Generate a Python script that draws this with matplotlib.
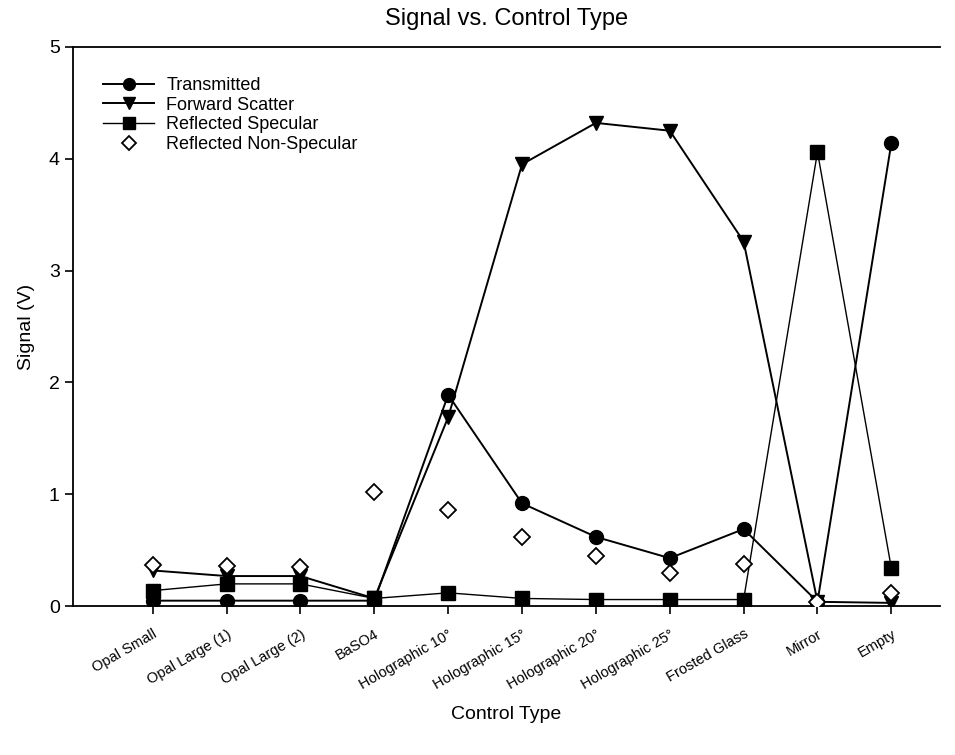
import numpy as np
import matplotlib.pyplot as plt

plt.rcParams['font.family'] = ['Liberation Sans', 'DejaVu Sans']

# --- data ---
categories = ['Opal Small', 'Opal Large (1)', 'Opal Large (2)', 'BaSO4',
              'Holographic 10°', 'Holographic 15°', 'Holographic 20°',
              'Holographic 25°', 'Frosted Glass', 'Mirror', 'Empty']
transmitted = [0.05, 0.05, 0.05, 0.05, 1.89, 0.92, 0.62, 0.43, 0.69, 0.04, 4.14]
forward_scatter = [0.32, 0.27, 0.27, 0.07, 1.69, 3.95, 4.32, 4.25, 3.26, 0.04, 0.03]
reflected_specular = [0.14, 0.20, 0.20, 0.07, 0.12, 0.07, 0.06, 0.06, 0.06, 4.06, 0.34]
reflected_nonspecular = [0.37, 0.36, 0.35, 1.02, 0.86, 0.62, 0.45, 0.30, 0.38, 0.04, 0.12]

x = np.arange(len(categories))

fig = plt.figure(figsize=(9.55, 7.55), dpi=100)
ax = fig.add_axes([0.0764, 0.197, 0.908, 0.741])

ax.plot(x, transmitted, color='black', marker='o', markersize=10, linewidth=1.4,
        label='Transmitted', zorder=3)
ax.plot(x, forward_scatter, color='black', marker='v', markersize=10, linewidth=1.4,
        label='Forward Scatter', zorder=3)
ax.plot(x, reflected_specular, color='black', marker='s', markersize=9.5, linewidth=1.0,
        label='Reflected Specular', zorder=3)
ax.plot(x, reflected_nonspecular, linestyle='none', marker='D', markersize=8.5,
        markerfacecolor='white', markeredgecolor='black', markeredgewidth=1.3,
        label='Reflected Non-Specular', zorder=4)

ax.set_xlim(-1.08, 10.66)
ax.set_ylim(0, 5)
ax.set_yticks([0, 1, 2, 3, 4, 5])
ax.set_xticks(x)
ax.set_xticklabels(categories, rotation=30, ha='right', rotation_mode='anchor', fontsize=10.5)
ax.tick_params(axis='y', labelsize=14, direction='out', length=6, width=1.2)
ax.tick_params(axis='x', direction='out', length=6, width=1.2, pad=9)

ax.spines['right'].set_visible(False)
for s in ['top', 'left', 'bottom']:
    ax.spines[s].set_linewidth(1.3)

ax.set_title('Signal vs. Control Type', fontsize=17, pad=16)
ax.set_xlabel('Control Type', fontsize=14, labelpad=10)
ax.set_ylabel('Signal (V)', fontsize=14, labelpad=10)

leg = ax.legend(loc='upper left', bbox_to_anchor=(0.01, 0.985), frameon=False, fontsize=13,
                handlelength=2.8, handletextpad=0.7, labelspacing=0.15, borderaxespad=0.8,
                markerscale=0.85)

fig.savefig('out.png', dpi=100)
